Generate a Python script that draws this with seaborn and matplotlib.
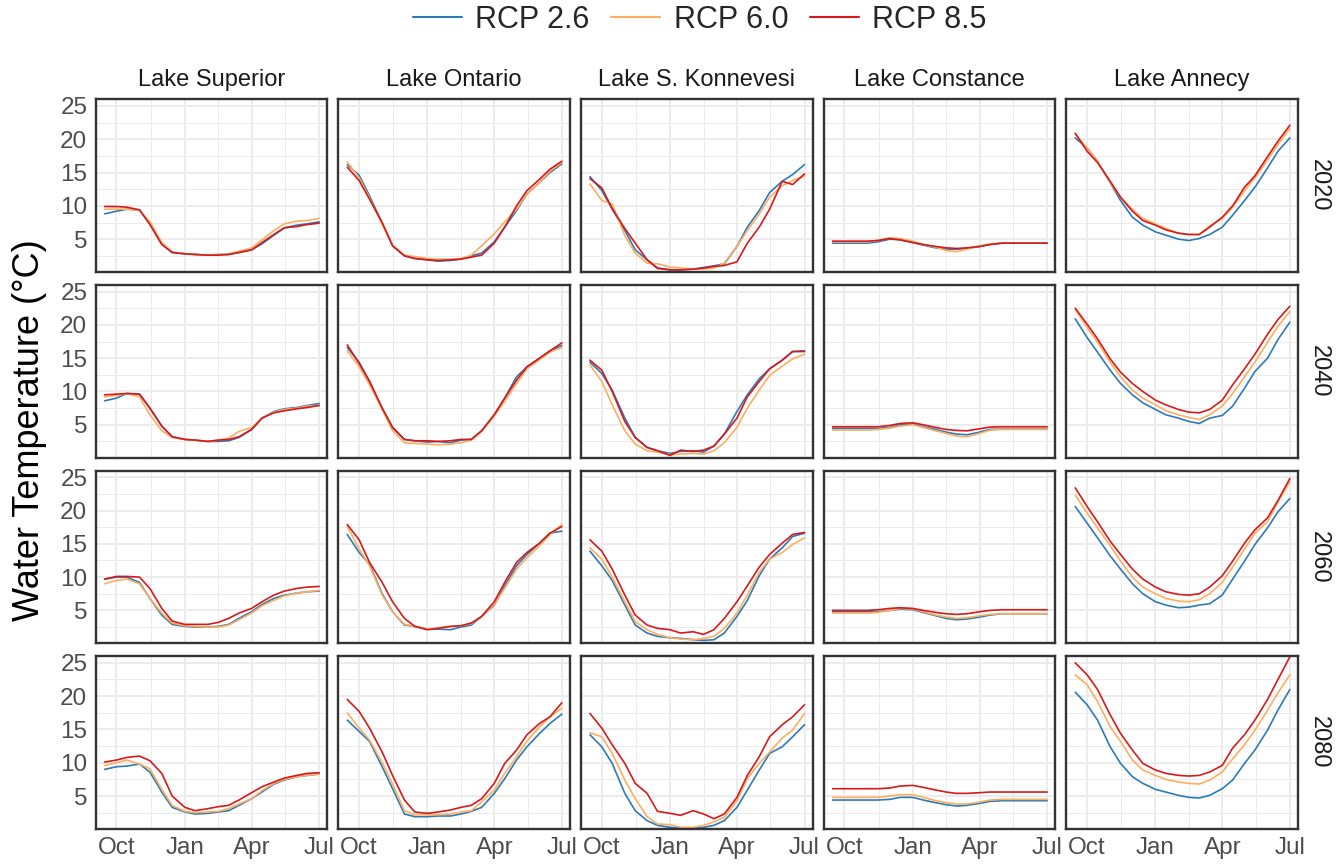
import matplotlib
matplotlib.use("Agg")
import matplotlib.pyplot as plt
import matplotlib.dates as mdates
from matplotlib.lines import Line2D
import pandas as pd
import seaborn as sns

# ---------------------------------------------------------------- data
DATES = ["2001-09-15", "2001-10-01", "2001-10-15", "2001-11-01", "2001-11-15",
         "2001-12-01", "2001-12-15", "2002-01-01", "2002-01-15", "2002-02-01",
         "2002-02-15", "2002-03-01", "2002-03-15", "2002-04-01", "2002-04-15",
         "2002-05-01", "2002-05-15", "2002-06-01", "2002-06-15", "2002-07-01"]

LAKES = ["Lake Superior", "Lake Ontario", "Lake S. Konnevesi", "Lake Constance", "Lake Annecy"]
YEARS = ["2020", "2040", "2060", "2080"]
SCENARIOS = ["RCP 2.6", "RCP 6.0", "RCP 8.5"]
COLORS = ["#2c7bb6", "#fdae61", "#d7191c"]

# Lake Superior
SUP_2020_26 = [8.8, 9.2, 9.5, 9.4, 7.3, 4.3, 3.0, 2.8, 2.7, 2.6, 2.7, 2.7, 3.0, 3.4, 4.3, 5.6, 6.7, 7.1, 7.3, 7.6]
SUP_2020_60 = [9.5, 9.5, 9.5, 9.3, 7.6, 4.5, 3.1, 2.8, 2.7, 2.6, 2.7, 2.8, 3.2, 3.7, 4.9, 6.3, 7.3, 7.7, 7.8, 8.1]
SUP_2020_85 = [9.9, 9.9, 9.8, 9.4, 7.2, 4.2, 3.0, 2.8, 2.7, 2.6, 2.6, 2.7, 3.0, 3.4, 4.5, 5.7, 6.7, 6.9, 7.2, 7.4]
SUP_2040_26 = [8.6, 9.0, 9.7, 9.6, 7.5, 4.8, 3.2, 2.8, 2.7, 2.5, 2.5, 2.6, 3.1, 4.3, 6.0, 7.0, 7.4, 7.6, 7.9, 8.2]
SUP_2040_60 = [9.2, 9.4, 9.7, 9.2, 6.5, 4.1, 3.1, 2.8, 2.7, 2.5, 2.7, 3.0, 4.0, 4.6, 6.0, 6.9, 7.3, 7.5, 7.8, 7.9]
SUP_2040_85 = [9.5, 9.6, 9.7, 9.6, 7.5, 4.8, 3.2, 2.8, 2.7, 2.5, 2.7, 2.8, 3.2, 4.3, 6.0, 6.8, 7.1, 7.4, 7.6, 7.9]
SUP_2060_26 = [9.7, 10.0, 10.0, 9.2, 6.8, 4.3, 2.9, 2.6, 2.5, 2.5, 2.6, 2.9, 3.8, 4.8, 5.9, 6.8, 7.3, 7.6, 7.8, 7.9]
SUP_2060_60 = [9.0, 9.5, 9.7, 9.0, 6.8, 4.6, 3.1, 2.7, 2.6, 2.5, 2.5, 2.8, 3.6, 4.6, 5.7, 6.5, 7.2, 7.6, 7.8, 8.0]
SUP_2060_85 = [9.7, 10.1, 10.1, 10.0, 8.3, 5.3, 3.4, 2.9, 2.9, 2.9, 3.2, 3.8, 4.6, 5.3, 6.3, 7.3, 7.9, 8.3, 8.5, 8.6]
SUP_2080_26 = [9.0, 9.4, 9.5, 9.8, 8.6, 5.6, 3.3, 2.6, 2.3, 2.4, 2.6, 2.8, 3.6, 4.6, 5.6, 6.8, 7.4, 7.9, 8.1, 8.3]
SUP_2080_60 = [9.6, 10.0, 10.4, 9.8, 9.1, 6.0, 3.6, 2.7, 2.5, 2.6, 2.7, 3.1, 3.8, 4.6, 5.8, 6.9, 7.5, 7.9, 8.1, 8.3]
SUP_2080_85 = [10.1, 10.4, 10.8, 11.0, 10.3, 8.4, 5.0, 3.3, 2.8, 3.1, 3.4, 3.6, 4.4, 5.5, 6.4, 7.1, 7.7, 8.1, 8.4, 8.5]

# Lake Ontario
ONT_2020_26 = [16.2, 14.6, 11.5, 7.4, 4.0, 2.5, 2.1, 1.9, 1.7, 1.8, 2.0, 2.5, 2.9, 4.6, 6.8, 9.3, 11.8, 13.5, 15.0, 16.3]
ONT_2020_60 = [16.6, 14.2, 11.2, 7.2, 4.1, 2.6, 2.4, 2.1, 2.0, 2.0, 2.1, 2.6, 4.0, 5.8, 7.6, 9.5, 11.8, 13.5, 15.2, 16.5]
ONT_2020_85 = [15.8, 13.8, 11.0, 7.5, 4.0, 2.5, 2.1, 1.9, 1.8, 1.9, 2.0, 2.3, 2.6, 4.4, 6.8, 10.0, 12.3, 14.0, 15.5, 16.7]
ONT_2040_26 = [16.6, 14.4, 11.5, 7.5, 4.6, 2.8, 2.6, 2.4, 2.5, 2.3, 2.7, 2.8, 4.1, 6.5, 9.0, 12.2, 13.7, 15.0, 16.1, 16.9]
ONT_2040_60 = [16.1, 13.7, 11.0, 7.3, 4.1, 2.3, 2.2, 2.1, 2.0, 2.1, 2.3, 2.7, 4.0, 6.3, 8.5, 11.2, 13.4, 14.8, 15.9, 16.6]
ONT_2040_85 = [17.0, 14.2, 11.5, 7.5, 4.6, 2.8, 2.6, 2.6, 2.5, 2.6, 2.8, 2.8, 4.1, 6.5, 9.0, 11.7, 13.7, 15.0, 16.1, 17.3]
ONT_2060_26 = [16.4, 13.7, 11.9, 7.5, 4.8, 2.8, 2.6, 2.2, 2.2, 2.1, 2.5, 2.8, 4.1, 5.8, 8.7, 11.7, 13.4, 15.1, 16.6, 16.9]
ONT_2060_60 = [17.6, 14.2, 11.7, 7.3, 4.8, 2.9, 2.6, 2.2, 2.4, 2.6, 2.7, 3.0, 4.1, 5.9, 8.3, 11.2, 12.9, 14.7, 16.4, 17.9]
ONT_2060_85 = [17.9, 15.6, 12.2, 9.2, 6.3, 3.8, 2.6, 2.1, 2.3, 2.6, 2.7, 3.1, 4.1, 6.3, 9.2, 12.2, 13.7, 15.1, 16.6, 17.6]
ONT_2080_26 = [16.4, 14.7, 13.2, 9.4, 6.1, 2.3, 1.9, 1.9, 2.0, 2.0, 2.3, 2.7, 3.3, 5.4, 7.6, 10.4, 12.4, 14.4, 15.9, 17.3]
ONT_2080_60 = [17.5, 15.2, 13.4, 10.0, 6.8, 2.8, 2.2, 2.2, 2.2, 2.3, 2.6, 2.8, 4.1, 5.9, 8.4, 10.9, 13.2, 15.4, 16.9, 18.2]
ONT_2080_85 = [19.5, 17.7, 15.2, 11.6, 8.1, 4.4, 2.6, 2.4, 2.6, 2.9, 3.3, 3.6, 4.6, 6.9, 9.9, 11.9, 14.2, 15.9, 16.9, 19.0]

# Lake S. Konnevesi
KON_2020_26 = [14.4, 12.3, 9.5, 6.3, 3.4, 1.9, 0.7, 0.4, 0.4, 0.5, 0.75, 1.0, 1.3, 3.9, 6.8, 9.3, 12.0, 13.7, 14.7, 16.2]
KON_2020_60 = [13.3, 10.8, 10.3, 5.5, 2.9, 1.4, 1.3, 0.8, 0.7, 0.5, 0.55, 0.65, 1.4, 3.9, 6.3, 8.8, 11.3, 13.0, 13.8, 14.5]
KON_2020_85 = [14.1, 12.7, 9.6, 6.6, 4.4, 1.9, 0.6, 0.4, 0.4, 0.5, 0.65, 0.9, 1.05, 1.6, 4.4, 6.8, 9.5, 13.7, 13.2, 14.8]
KON_2040_26 = [14.4, 12.7, 10.2, 6.0, 3.1, 1.6, 1.1, 0.7, 1.0, 1.1, 0.9, 1.8, 3.6, 7.0, 9.5, 11.9, 13.4, 14.7, 16.0, 16.1]
KON_2040_60 = [14.0, 11.5, 8.0, 4.1, 2.1, 1.1, 0.9, 0.5, 0.6, 0.7, 0.6, 1.1, 2.3, 4.6, 7.5, 10.2, 12.4, 13.8, 14.9, 15.6]
KON_2040_85 = [14.7, 13.2, 10.0, 5.5, 3.1, 1.6, 1.1, 0.4, 1.2, 1.0, 1.2, 1.8, 3.6, 6.0, 9.2, 11.5, 13.4, 14.7, 16.0, 16.0]
KON_2060_26 = [13.9, 11.7, 9.5, 5.8, 2.8, 1.6, 1.1, 0.9, 0.8, 0.6, 0.5, 0.6, 1.6, 4.1, 6.5, 10.2, 12.7, 14.4, 16.1, 16.6]
KON_2060_60 = [14.4, 12.7, 10.0, 6.3, 3.3, 2.1, 1.4, 0.9, 0.7, 0.6, 0.8, 1.1, 2.3, 4.6, 7.3, 10.7, 12.7, 13.7, 14.9, 15.9]
KON_2060_85 = [15.6, 13.9, 11.2, 7.3, 4.3, 2.8, 2.3, 2.1, 1.6, 1.8, 1.4, 2.1, 3.8, 6.3, 8.7, 11.5, 13.4, 15.1, 16.4, 16.7]
KON_2080_26 = [14.2, 12.4, 9.9, 5.4, 2.8, 1.3, 0.6, 0.3, 0.2, 0.2, 0.3, 0.6, 1.3, 3.3, 5.9, 8.9, 11.4, 12.4, 13.9, 15.7]
KON_2080_60 = [14.5, 13.9, 11.4, 7.4, 4.6, 1.9, 0.8, 0.7, 0.3, 0.3, 0.6, 1.1, 1.8, 4.3, 7.6, 9.9, 11.6, 13.7, 14.9, 17.4]
KON_2080_85 = [17.4, 15.2, 12.7, 9.9, 6.9, 5.4, 2.7, 2.4, 2.1, 2.8, 2.3, 1.6, 2.3, 4.8, 8.1, 10.9, 13.9, 15.7, 16.9, 18.7]

# Lake Constance
CON_2020_26 = [4.4, 4.4, 4.4, 4.4, 4.6, 5.0, 4.9, 4.5, 4.1, 3.7, 3.5, 3.5, 3.6, 3.9, 4.2, 4.4, 4.4, 4.4, 4.4, 4.4]
CON_2020_60 = [4.6, 4.6, 4.6, 4.6, 4.8, 5.2, 5.1, 4.7, 4.2, 3.8, 3.3, 3.1, 3.5, 4.0, 4.3, 4.4, 4.4, 4.4, 4.4, 4.4]
CON_2020_85 = [4.7, 4.7, 4.7, 4.7, 4.8, 5.1, 4.9, 4.5, 4.2, 3.9, 3.7, 3.6, 3.7, 3.9, 4.2, 4.4, 4.4, 4.4, 4.4, 4.4]
CON_2040_26 = [4.45, 4.45, 4.45, 4.45, 4.45, 4.6, 5.0, 5.1, 4.7, 4.3, 3.9, 3.6, 3.5, 3.9, 4.3, 4.35, 4.35, 4.35, 4.35, 4.35]
CON_2040_60 = [4.2, 4.2, 4.2, 4.2, 4.3, 4.5, 4.8, 5.0, 4.6, 4.1, 3.7, 3.3, 3.2, 3.7, 4.2, 4.3, 4.3, 4.3, 4.3, 4.3]
CON_2040_85 = [4.7, 4.7, 4.7, 4.7, 4.7, 4.9, 5.2, 5.3, 5.0, 4.6, 4.3, 4.15, 4.1, 4.4, 4.65, 4.7, 4.7, 4.7, 4.7, 4.7]
CON_2060_26 = [4.8, 4.8, 4.8, 4.8, 4.8, 5.0, 5.2, 5.1, 4.7, 4.2, 3.8, 3.6, 3.7, 4.0, 4.3, 4.5, 4.5, 4.5, 4.5, 4.5]
CON_2060_60 = [4.6, 4.6, 4.6, 4.6, 4.7, 5.0, 5.3, 5.2, 4.8, 4.3, 4.0, 3.8, 3.9, 4.2, 4.4, 4.5, 4.5, 4.5, 4.5, 4.5]
CON_2060_85 = [5.0, 5.0, 5.0, 5.0, 5.1, 5.3, 5.4, 5.3, 5.0, 4.7, 4.5, 4.4, 4.5, 4.8, 5.0, 5.1, 5.1, 5.1, 5.1, 5.1]
CON_2080_26 = [4.4, 4.4, 4.4, 4.4, 4.4, 4.5, 4.8, 4.8, 4.4, 4.0, 3.7, 3.5, 3.6, 3.9, 4.2, 4.3, 4.3, 4.3, 4.3, 4.3]
CON_2080_60 = [4.8, 4.8, 4.8, 4.8, 4.8, 5.0, 5.2, 5.2, 4.8, 4.3, 4.0, 3.8, 3.8, 4.1, 4.4, 4.5, 4.5, 4.5, 4.5, 4.5]
CON_2080_85 = [6.1, 6.1, 6.1, 6.1, 6.1, 6.2, 6.5, 6.6, 6.3, 5.9, 5.6, 5.4, 5.4, 5.5, 5.6, 5.6, 5.6, 5.6, 5.6, 5.6]

# Lake Annecy
ANN_2020_26 = [20.2, 18.7, 16.7, 13.5, 10.8, 8.3, 7.1, 6.1, 5.6, 5.0, 4.8, 5.1, 5.7, 6.8, 8.6, 10.8, 12.8, 15.7, 18.2, 20.2]
ANN_2020_60 = [20.8, 18.7, 16.7, 13.5, 11.3, 9.5, 8.1, 7.3, 6.6, 5.9, 5.7, 5.7, 7.0, 8.1, 9.8, 12.3, 14.2, 16.9, 19.2, 21.6]
ANN_2020_85 = [20.9, 18.2, 16.5, 13.7, 11.3, 9.2, 7.8, 7.1, 6.4, 5.9, 5.7, 5.7, 6.8, 8.3, 10.0, 12.8, 14.5, 17.4, 19.7, 22.1]
ANN_2040_26 = [20.9, 18.1, 15.9, 13.2, 11.2, 9.5, 8.3, 7.3, 6.5, 6.0, 5.5, 5.2, 6.0, 6.4, 7.8, 10.5, 13.0, 15.0, 17.8, 20.4]
ANN_2040_60 = [22.3, 19.6, 17.4, 14.4, 12.2, 10.2, 9.0, 8.0, 7.1, 6.5, 6.1, 5.8, 6.5, 7.8, 9.7, 12.2, 14.4, 17.4, 19.8, 22.0]
ANN_2040_85 = [22.5, 20.1, 17.9, 14.9, 12.9, 11.2, 10.0, 8.7, 8.0, 7.3, 6.9, 6.8, 7.3, 8.7, 11.0, 13.4, 15.6, 18.6, 20.8, 22.8]
ANN_2060_26 = [20.6, 18.1, 15.9, 13.2, 11.2, 9.0, 7.5, 6.3, 5.8, 5.4, 5.5, 5.8, 6.0, 7.3, 9.7, 12.4, 14.9, 17.4, 19.8, 21.8]
ANN_2060_60 = [22.3, 19.6, 17.4, 14.7, 12.4, 10.0, 8.5, 7.5, 6.8, 6.4, 6.3, 6.6, 7.5, 9.2, 11.5, 14.2, 16.6, 18.3, 21.3, 24.3]
ANN_2060_85 = [23.4, 20.6, 18.3, 15.4, 13.4, 11.2, 9.7, 8.5, 7.8, 7.4, 7.3, 7.5, 8.5, 10.2, 12.4, 15.1, 17.1, 18.9, 21.5, 24.8]
ANN_2080_26 = [20.6, 18.7, 16.4, 12.4, 9.9, 7.9, 6.9, 6.0, 5.6, 5.1, 4.8, 4.7, 5.1, 6.1, 7.4, 9.9, 11.9, 14.9, 17.9, 21.0]
ANN_2080_60 = [23.2, 21.7, 19.2, 15.4, 13.2, 10.4, 8.9, 8.1, 7.5, 7.1, 6.9, 6.8, 7.4, 8.6, 10.6, 12.7, 14.9, 17.9, 20.5, 23.2]
ANN_2080_85 = [25.0, 23.2, 21.0, 17.2, 14.4, 11.9, 9.9, 8.9, 8.4, 8.1, 8.0, 8.1, 8.6, 9.6, 12.2, 14.2, 16.4, 19.5, 22.5, 25.9]

SERIES = {
    "Lake Superior": {
        "2020": [SUP_2020_26, SUP_2020_60, SUP_2020_85],
        "2040": [SUP_2040_26, SUP_2040_60, SUP_2040_85],
        "2060": [SUP_2060_26, SUP_2060_60, SUP_2060_85],
        "2080": [SUP_2080_26, SUP_2080_60, SUP_2080_85],
    },
    "Lake Ontario": {
        "2020": [ONT_2020_26, ONT_2020_60, ONT_2020_85],
        "2040": [ONT_2040_26, ONT_2040_60, ONT_2040_85],
        "2060": [ONT_2060_26, ONT_2060_60, ONT_2060_85],
        "2080": [ONT_2080_26, ONT_2080_60, ONT_2080_85],
    },
    "Lake S. Konnevesi": {
        "2020": [KON_2020_26, KON_2020_60, KON_2020_85],
        "2040": [KON_2040_26, KON_2040_60, KON_2040_85],
        "2060": [KON_2060_26, KON_2060_60, KON_2060_85],
        "2080": [KON_2080_26, KON_2080_60, KON_2080_85],
    },
    "Lake Constance": {
        "2020": [CON_2020_26, CON_2020_60, CON_2020_85],
        "2040": [CON_2040_26, CON_2040_60, CON_2040_85],
        "2060": [CON_2060_26, CON_2060_60, CON_2060_85],
        "2080": [CON_2080_26, CON_2080_60, CON_2080_85],
    },
    "Lake Annecy": {
        "2020": [ANN_2020_26, ANN_2020_60, ANN_2020_85],
        "2040": [ANN_2040_26, ANN_2040_60, ANN_2040_85],
        "2060": [ANN_2060_26, ANN_2060_60, ANN_2060_85],
        "2080": [ANN_2080_26, ANN_2080_60, ANN_2080_85],
    },
}

# long-form table
rows = []
dates = pd.to_datetime(DATES)
for lake in LAKES:
    for year in YEARS:
        for scen, values in zip(SCENARIOS, SERIES[lake][year]):
            for d, v in zip(dates, values):
                rows.append({"lake": lake, "year": year, "scenario": scen, "date": d, "temp": v})
df = pd.DataFrame(rows)

# ---------------------------------------------------------------- style
sns.set_theme(style="white")
plt.rcParams["font.family"] = ["Liberation Sans", "DejaVu Sans"]

BORDER = "#333333"
GRID = "#ebebeb"
TICKTXT = "#4d4d4d"

W, H = 1338, 867
fig, axes = plt.subplots(4, 5, figsize=(W / 100, H / 100), dpi=100)
fig.subplots_adjust(left=95.7 / W, right=1298 / W, top=1 - 99.3 / H,
                    bottom=1 - 829 / H, wspace=0.0475, hspace=0.074)

xmin = pd.Timestamp("2001-09-03")
xmax = pd.Timestamp("2002-07-12")
major_x = pd.to_datetime(["2001-10-01", "2002-01-01", "2002-04-01", "2002-07-01"])
minor_x = pd.to_datetime(["2001-11-16", "2002-02-15", "2002-05-16"])

for i, year in enumerate(YEARS):
    for j, lake in enumerate(LAKES):
        ax = axes[i, j]
        sub = df[(df["lake"] == lake) & (df["year"] == year)]
        sns.lineplot(data=sub, x="date", y="temp", hue="scenario",
                     hue_order=SCENARIOS, palette=COLORS, linewidth=1.2,
                     legend=False, ax=ax)
        ax.set_xlim(xmin, xmax)
        ax.set_ylim(0.05, 26.0)
        ax.set_xticks(major_x)
        ax.set_xticks(minor_x, minor=True)
        ax.xaxis.set_major_formatter(mdates.DateFormatter("%b"))
        ax.set_yticks([5, 10, 15, 20, 25])
        ax.set_yticks([2.5, 7.5, 12.5, 17.5, 22.5], minor=True)
        ax.set_axisbelow(True)
        ax.grid(which="major", color=GRID, linewidth=1.3)
        ax.grid(which="minor", color=GRID, linewidth=0.7)
        for s in ax.spines.values():
            s.set_color(BORDER)
            s.set_linewidth(1.7)
        ax.set_xlabel("")
        ax.set_ylabel("")
        ax.tick_params(which="minor", length=0)
        ax.tick_params(which="major", length=4, width=1.1, color=BORDER,
                       labelsize=17.5, labelcolor=TICKTXT, pad=2)
        if j != 0:
            ax.tick_params(axis="y", left=False, labelleft=False)
        if i != len(YEARS) - 1:
            ax.tick_params(axis="x", bottom=False, labelbottom=False)
        if i == 0:
            ax.text(0.5, 1 + 19 / 172.4, lake, transform=ax.transAxes,
                    ha="center", va="center", fontsize=17, color="#1a1a1a")
        if j == len(LAKES) - 1:
            ax.text(1 + 21 / 231.5, 0.5, year, transform=ax.transAxes,
                    ha="center", va="center", rotation=270,
                    fontsize=17, color="#1a1a1a")

fig.text(30 / W, 1 - 430 / H, "Water Temperature (°C)", rotation=90,
         ha="center", va="center", fontsize=26, color="black")

handles = [Line2D([0], [0], color=c, linewidth=1.5) for c in COLORS]
fig.legend(handles, SCENARIOS, loc="center", bbox_to_anchor=(0.523, 1 - 20 / H),
           ncol=3, frameon=False, fontsize=22, handlelength=1.6,
           handletextpad=0.45, columnspacing=0.7)

fig.savefig("out.png", dpi=100)
